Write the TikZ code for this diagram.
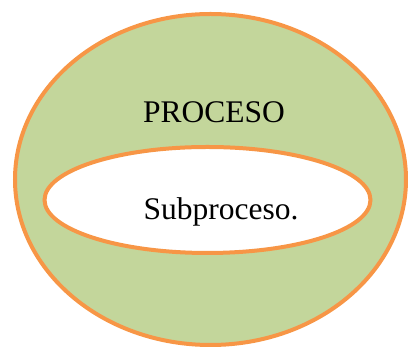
\documentclass[tikz,border=0pt]{standalone}
\usepackage{fontspec}
\setmainfont{Liberation Serif}
\usetikzlibrary{shapes.geometric}
\definecolor{procgreen}{HTML}{C3D69B}
\definecolor{procorange}{HTML}{F79646}
\tikzset{
  ring/.style={ellipse, draw=procorange, line width=4pt, inner sep=0pt, outer sep=0pt},
  label/.style={anchor=base, inner sep=0pt, font=\fontsize{31.5}{36}\selectfont}
}
\begin{document}
\begin{tikzpicture}[x=1pt,y=1pt]
  \useasboundingbox (0,0) rectangle (408,347);
  \begin{scope}
    \clip (0,0) rectangle (408,347);
    % outer process
    \node[ring, fill=procgreen, minimum width=391pt, minimum height=331pt] (proc) at (210.5,167.5) {};
    % inner subprocess
    \node[ring, fill=white, minimum width=326pt, minimum height=106pt] (sub) at (207.5,147) {};
  \end{scope}
  \node[label] (proctext) at (214,224) {PROCESO};
  \node[label] (subtext) at (221,127) {Subproceso.};
\end{tikzpicture}
\end{document}
